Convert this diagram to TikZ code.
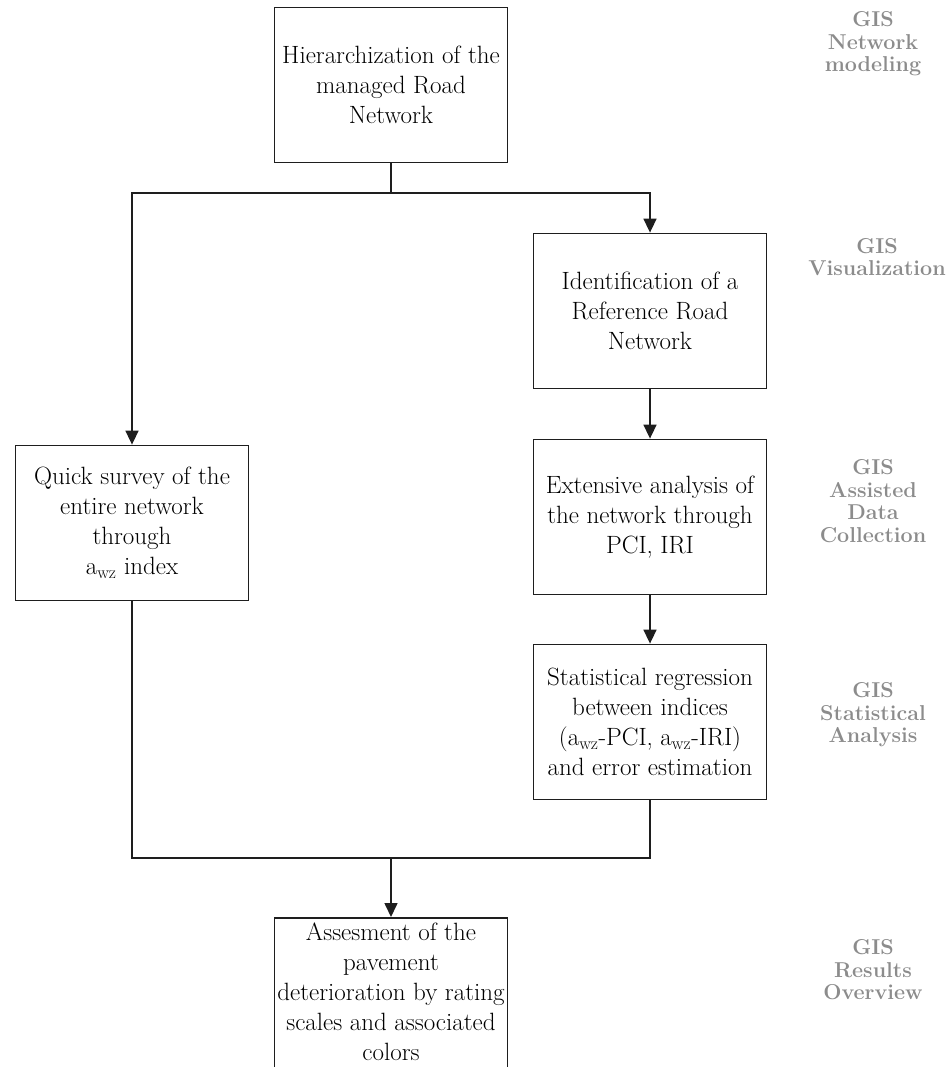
\documentclass[tikz,border=0pt]{standalone}
\usetikzlibrary{arrows.meta}
\definecolor{lbl}{HTML}{8C8C8C}
\definecolor{ln}{HTML}{1E1E1E}
\tikzset{
  box/.style={draw=ln, line width=1.8pt, minimum width=233pt, minimum height=155pt,
    inner sep=0pt, align=center, font=\fontsize{25}{30}\selectfont},
  gis/.style={text=lbl, align=center, font=\fontsize{21.5}{22.5}\selectfont\bfseries},
  conn/.style={draw=ln, line width=1.6pt},
  arr/.style={conn, -{Triangle[width=13pt,length=14pt]}}
}
\begin{document}
\begin{tikzpicture}[x=1pt,y=-1pt]
\useasboundingbox (0,0) rectangle (947,1067);
\node[box] (b1) at (391,85) {Hierarchization of the\\managed Road\\Network};
\node[box] (b3) at (650,311) {Identification of a\\Reference Road\\Network};
\node[box] (b2) at (132,523) {Quick survey of the\\entire network\\through\\a\textsubscript{wz} index};
\node[box] (b4) at (650,517) {Extensive analysis of\\the network through\\PCI, IRI};
\node[box] (b5) at (650,722) {Statistical regression\\between indices\\(a\textsubscript{wz}-PCI, a\textsubscript{wz}-IRI)\\and error estimation};
\node[box, minimum height=0pt, inner xsep=0pt, inner ysep=5pt, anchor=north, minimum width=233pt] (b6) at (391,917)
  {Assesment of the\\pavement\\deterioration by rating\\scales and associated\\colors\\[-4pt]};
\coordinate (split) at (391,193);
\coordinate (join) at (391,858);
\draw[conn] (b1.south) -- (split);
\draw[arr] (split) -| (b2.north);
\draw[arr] (split) -| (b3.north);
\draw[arr] (b3.south) -- (b4.north);
\draw[arr] (b4.south) -- (b5.north);
\draw[conn] (b2.south) |- (join);
\draw[conn] (b5.south) |- (join);
\draw[arr] (join) -- (b6.north);
\node[gis] (g1) at (873,44) {GIS\\Network\\modeling};
\node[gis] (g2) at (877,257) {GIS\\Visualization};
\node[gis] (g3) at (873,501) {GIS\\Assisted\\Data\\Collection};
\node[gis] (g4) at (873,715) {GIS\\Statistical\\Analysis};
\node[gis] (g5) at (873,970) {GIS\\Results\\Overview};
\end{tikzpicture}
\end{document}
